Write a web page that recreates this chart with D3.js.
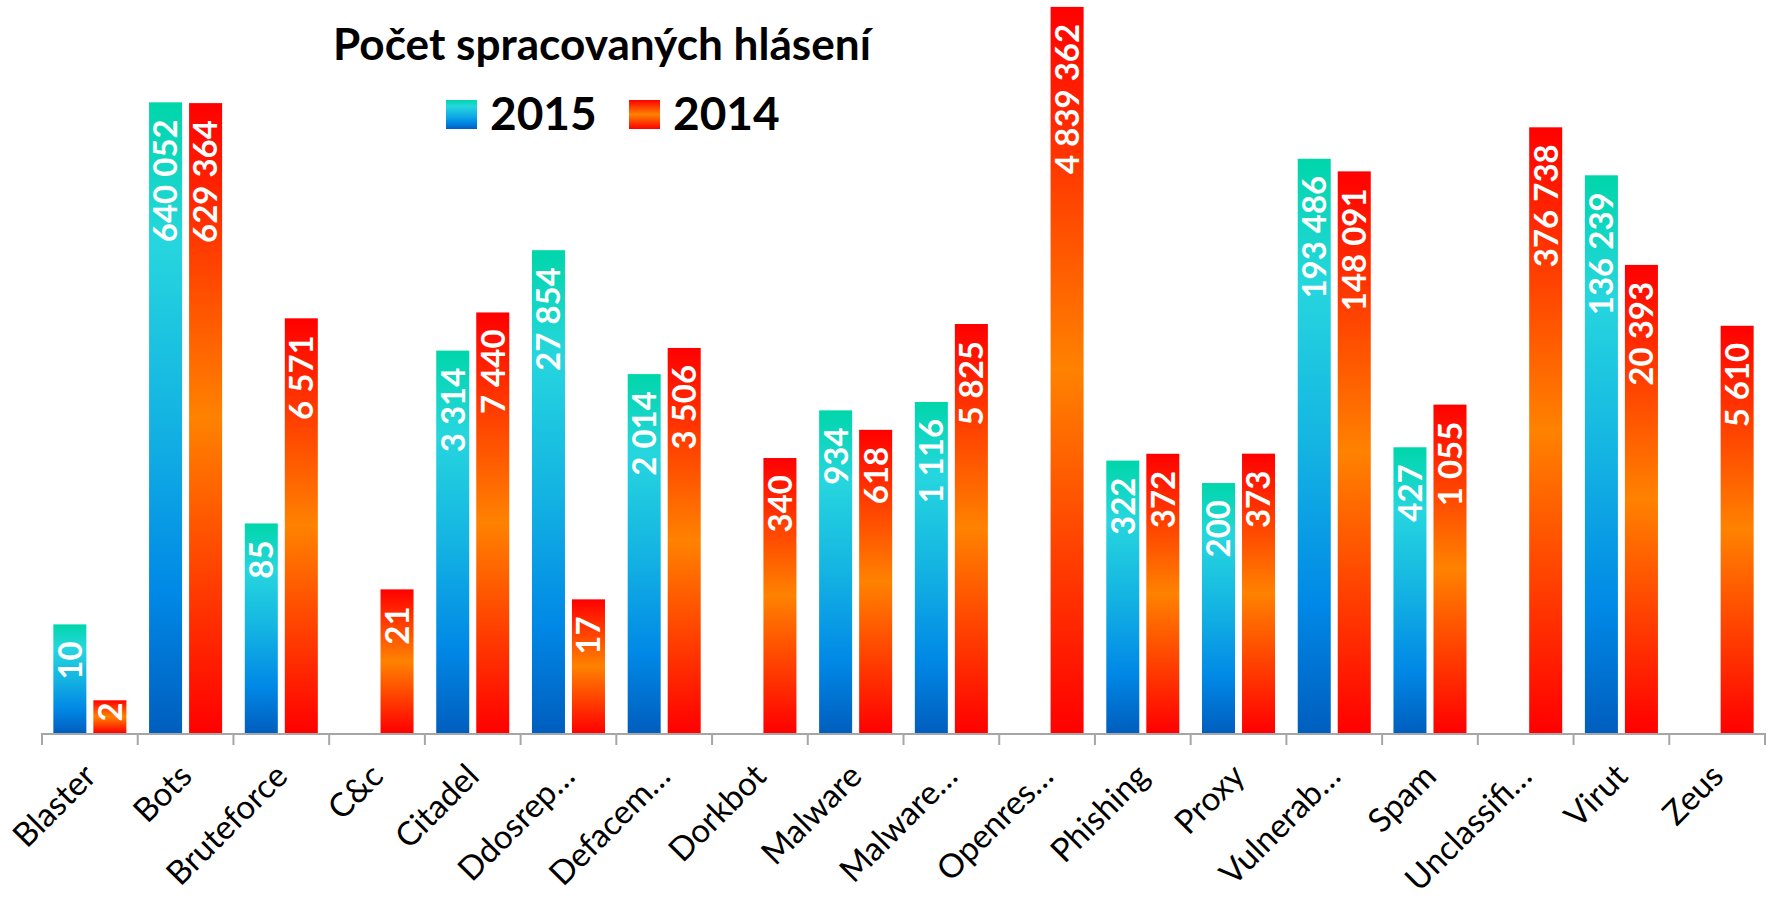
<!DOCTYPE html>
<html>
<head>
<meta charset="utf-8">
<script src="https://cdn.jsdelivr.net/npm/d3@7"></script>
<style>
  html, body { margin: 0; padding: 0; background: #ffffff; }
  svg { display: block; }
</style>
</head>
<body>
<svg id="chart" width="1776" height="898"></svg>
<script>
// ---- data ----
const categories = ["Blaster", "Bots", "Bruteforce", "C&c", "Citadel", "Ddosrep…", "Defacem…", "Dorkbot", "Malware", "Malware…", "Openres…", "Phishing", "Proxy", "Vulnerab…", "Spam", "Unclassifi…", "Virut", "Zeus"];
const seriesNames = ["2015", "2014"];
const values2015 = [10, 640052, 85, null, 3314, 27854, 2014, null, 934, 1116, null, 322, 200, 193486, 427, null, 136239, null];
const values2014 = [2, 629364, 6571, 21, 7440, 17, 3506, 340, 618, 5825, 4839362, 372, 373, 148091, 1055, 376738, 20393, 5610];
const titleText = "Počet spracovaných hlásení";

// ---- layout ----
const svg = d3.select("#chart");
const plot = { left: 42, right: 1765, bottom: 733, top: 0 };

const x0 = d3.scaleBand().domain(categories).range([plot.left, plot.right]).paddingInner(0.237).paddingOuter(0.1185);
const x1 = d3.scaleBand().domain(seriesNames).range([0, x0.bandwidth()]).paddingInner(0.175).paddingOuter(0);
const y = d3.scaleLog().domain([1, 5.6e6]).range([plot.bottom, plot.top]);

const locale = d3.formatLocale({ decimal: ",", thousands: "\u00a0", grouping: [3], currency: ["", ""] });
const fmt = locale.format(",d");

// ---- gradients ----
const defs = svg.append("defs");
const gBlue = defs.append("linearGradient").attr("id", "gBlue").attr("x1", 0).attr("y1", 0).attr("x2", 0).attr("y2", 1);
[[0, "#00d6aa"], [0.22, "#26d6de"], [0.5, "#14b4e2"], [0.78, "#0088e6"], [1, "#005ebe"]].forEach(s =>
  gBlue.append("stop").attr("offset", s[0]).attr("stop-color", s[1]));
const gRed = defs.append("linearGradient").attr("id", "gRed").attr("x1", 0).attr("y1", 0).attr("x2", 0).attr("y2", 1);
[[0, "#ff0000"], [0.5, "#ff8200"], [1, "#ff0000"]].forEach(s =>
  gRed.append("stop").attr("offset", s[0]).attr("stop-color", s[1]));
const fills = { "2015": "url(#gBlue)", "2014": "url(#gRed)" };

// ---- bars ----
const rows = categories.map((c, i) => ({ cat: c, vals: [
  { s: "2015", v: values2015[i] }, { s: "2014", v: values2014[i] }
].filter(d => d.v != null) }));

const groups = svg.append("g").selectAll("g").data(rows).join("g")
  .attr("transform", d => `translate(${x0(d.cat)},0)`);

groups.selectAll("rect").data(d => d.vals).join("rect")
  .attr("x", d => x1(d.s))
  .attr("y", d => y(d.v))
  .attr("width", x1.bandwidth())
  .attr("height", d => plot.bottom - y(d.v))
  .attr("fill", d => fills[d.s]);

// ---- value labels ----
const labelFont = 33;
groups.selectAll("text").data(d => d.vals).join("text")
  .text(d => fmt(d.v))
  .attr("font-family", "Lato, 'Open Sans', sans-serif")
  .attr("font-weight", 700)
  .attr("font-size", labelFont)
  .attr("fill", "#ffffff")
  .attr("text-anchor", "end")
  .each(function (d) {
    const len = this.getComputedTextLength();
    const barH = plot.bottom - y(d.v);
    const pad = Math.max(2, Math.min(17, barH - len - 14));
    const cx = x1(d.s) + x1.bandwidth() / 2;
    const top = y(d.v) + pad;
    d3.select(this)
      .attr("transform", `translate(${cx},${top}) rotate(-90)`)
      .attr("dy", "0.36em");
  });

// ---- x axis ----
const axisColor = "#a6a6a6";
const axisG = svg.append("g");
axisG.append("line")
  .attr("x1", plot.left).attr("x2", plot.right)
  .attr("y1", plot.bottom + 1).attr("y2", plot.bottom + 1)
  .attr("stroke", axisColor).attr("stroke-width", 2);
const step = x0.step();
const bounds = categories.map(c => x0(c) - step * x0.paddingInner() / 2).concat([plot.right]);
axisG.selectAll("line.tick").data(bounds).join("line")
  .attr("class", "tick")
  .attr("x1", d => d).attr("x2", d => d)
  .attr("y1", plot.bottom).attr("y2", plot.bottom + 12)
  .attr("stroke", axisColor).attr("stroke-width", 2);

axisG.selectAll("text").data(categories).join("text")
  .text(d => d)
  .attr("font-family", "Lato, 'Open Sans', sans-serif")
  .attr("font-size", 33)
  .attr("fill", "#000000")
  .attr("text-anchor", "end")
  .attr("dy", "0.35em")
  .attr("transform", d => `translate(${x0(d) + x0.bandwidth() / 2},770) rotate(-45)`);

// ---- title ----
const title = svg.append("text")
  .text(titleText)
  .attr("x", 602).attr("y", 60)
  .attr("text-anchor", "middle")
  .attr("font-family", "Lato, 'Open Sans', sans-serif")
  .attr("font-weight", 700)
  .attr("font-size", 40)
  .attr("fill", "#000000");
const tl = title.node().getComputedTextLength();
title.attr("font-size", 40 * 538 / tl);

// ---- legend ----
const legendX = { "2015": 446, "2014": 629 };
const leg = svg.append("g").selectAll("g").data(seriesNames).join("g")
  .attr("transform", d => `translate(${legendX[d]},100)`);
leg.append("rect").attr("x", 0).attr("y", 0).attr("width", 31).attr("height", 29)
  .attr("fill", d => fills[d]);
leg.append("text").text(d => d)
  .attr("x", 44).attr("y", 30)
  .attr("font-family", "Lato, 'Open Sans', sans-serif")
  .attr("font-weight", 700)
  .attr("font-size", 46)
  .attr("fill", "#000000");
</script>
</body>
</html>
